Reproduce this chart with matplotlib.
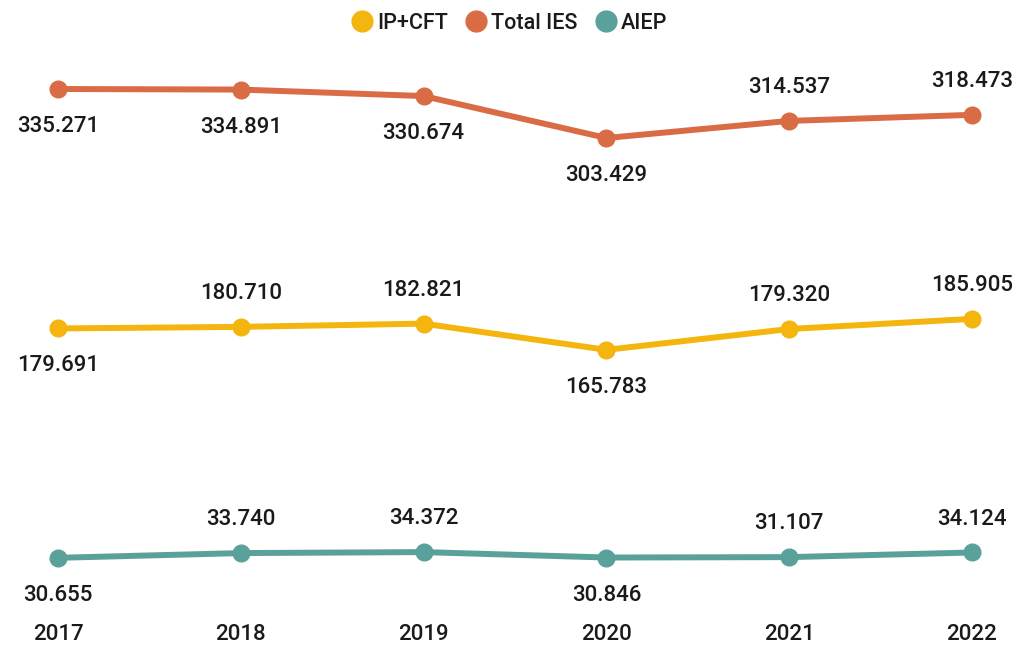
import matplotlib
matplotlib.use("Agg")
import matplotlib.pyplot as plt
from matplotlib.lines import Line2D

years = [2017, 2018, 2019, 2020, 2021, 2022]
total_ies = [335.271, 334.891, 330.674, 303.429, 314.537, 318.473]
ip_cft = [179.691, 180.710, 182.821, 165.783, 179.320, 185.905]
aiep = [30.655, 33.740, 34.372, 30.846, 31.107, 34.124]

# label placement per point: True = above, False = below
ies_above = [False, False, False, False, True, True]
ipcft_above = [False, True, True, False, True, True]
aiep_above = [False, True, True, False, True, True]

COLORS = {
    "IP+CFT": "#F5B50F",
    "Total IES": "#DA6C45",
    "AIEP": "#5BA19B",
}
TEXT = "#1b1a19"

plt.rcParams["font.family"] = ["Roboto", "DejaVu Sans"]

fig = plt.figure(figsize=(10.19, 6.47), dpi=100)
ax = fig.add_axes([20 / 1019, 1 - 605 / 647, 990 / 1019, 565 / 647])

series = [
    ("Total IES", total_ies, ies_above),
    ("IP+CFT", ip_cft, ipcft_above),
    ("AIEP", aiep, aiep_above),
]

for name, vals, above in series:
    ax.plot(years, vals, color=COLORS[name], linewidth=4.3, marker="o",
            markersize=12, solid_capstyle="round", zorder=3)
    for x, y, up in zip(years, vals, above):
        ax.annotate(f"{y:.3f}", xy=(x, y),
                    xytext=(0, 24 if up else -27), textcoords="offset points",
                    ha="center", va="center", fontsize=16, color=TEXT,
                    fontweight="medium")

ax.set_xlim(2017 - 38 / 182.8, 2022 + 38 / 182.8)
ax.set_ylim(0, 367.1)
ax.set_xticks(years)
ax.set_xticklabels([str(y) for y in years], fontsize=16, color=TEXT,
                   fontweight="medium")
ax.tick_params(axis="x", length=0, pad=14)
ax.set_yticks([])
for spine in ax.spines.values():
    spine.set_visible(False)

handles = [
    Line2D([], [], linestyle="none", marker="o", markersize=15,
           color=COLORS[n], label=n)
    for n in ["IP+CFT", "Total IES", "AIEP"]
]
fig.legend(handles=handles, loc="upper center", bbox_to_anchor=(0.5, 1.01),
           ncol=3, frameon=False, handletextpad=0.2,
           columnspacing=0.8, labelcolor=TEXT, handlelength=1.0,
           prop={"size": 15.5, "weight": "medium"})

fig.savefig("out.png", dpi=100)
